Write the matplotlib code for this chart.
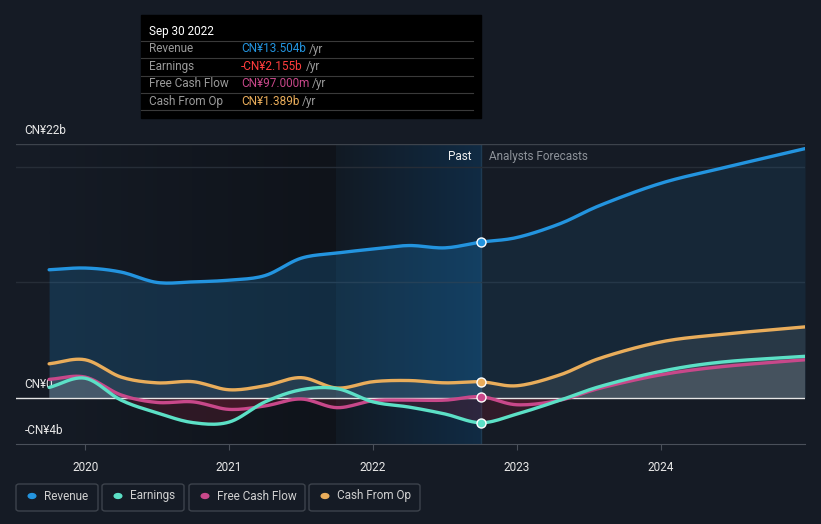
import numpy as np
import matplotlib.pyplot as plt
from matplotlib.colors import LinearSegmentedColormap
from matplotlib.patches import FancyBboxPatch, Rectangle

plt.rcParams['font.family'] = ['Roboto', 'DejaVu Sans']

# quarterly dates (decimal years), CN¥ billions
dates = [2019.75, 2020.0, 2020.25, 2020.5, 2020.75, 2021.0, 2021.25, 2021.5,
         2021.75, 2022.0, 2022.25, 2022.5, 2022.75,
         2023.0, 2023.3, 2023.58, 2024.0, 2024.42, 2025.0]
revenue = [11.1, 11.25, 10.9, 10.0, 10.05, 10.2, 10.6, 12.1,
           12.55, 12.9, 13.2, 13.0, 13.5,
           13.9, 15.1, 16.7, 18.6, 19.9, 21.6]
earnings = [0.9, 1.7, -0.2, -1.3, -2.15, -2.1, -0.35, 0.7,
            0.8, -0.35, -0.8, -1.4, -2.155,
            -1.4, -0.2, 1.0, 2.3, 3.1, 3.6]
fcf = [1.6, 1.8, 0.25, -0.4, -0.35, -1.0, -0.7, -0.1,
       -0.85, -0.25, -0.2, -0.2, 0.097,
       -0.6, -0.2, 0.85, 2.0, 2.7, 3.3]
cfo = [2.95, 3.3, 1.8, 1.3, 1.4, 0.7, 1.05, 1.75,
       0.85, 1.4, 1.5, 1.3, 1.389,
       1.05, 2.0, 3.45, 4.85, 5.5, 6.15]
years = [2020, 2021, 2022, 2023, 2024]
now = 2022.75

BG = '#151b25'
C_REV = '#2394df'
C_EARN = '#5ce0c6'
C_FCF = '#c8488a'
C_CFO = '#e9ad5b'


def smooth(x, y, n=12):
    # catmull-rom curve through the points, only for drawing
    x = np.asarray(x, float)
    y = np.asarray(y, float)
    px = np.concatenate([[2 * x[0] - x[1]], x, [2 * x[-1] - x[-2]]])
    py = np.concatenate([[2 * y[0] - y[1]], y, [2 * y[-1] - y[-2]]])
    xs, ys = [], []
    t = np.linspace(0, 1, n, endpoint=False)
    for i in range(1, len(px) - 2):
        for p, out in ((px, xs), (py, ys)):
            p0, p1, p2, p3 = p[i - 1], p[i], p[i + 1], p[i + 2]
            out.extend(0.5 * (2 * p1 + (-p0 + p2) * t + (2 * p0 - 5 * p1 + 4 * p2 - p3) * t ** 2
                              + (-p0 + 3 * p1 - 3 * p2 + p3) * t ** 3))
    xs.append(x[-1])
    ys.append(y[-1])
    return np.array(xs), np.array(ys)


fig = plt.figure(figsize=(8.21, 5.24), dpi=100, facecolor=BG)
ax = fig.add_axes([16 / 821, 1 - 444 / 524, 789 / 821, 300 / 524])
ax.set_facecolor(BG)
x0, x1 = 2019.52, 2025.0
ax.set_xlim(x0, x1)
ax.set_ylim(-4, 22)

# past background: fading dark area, then last-year highlight gradient
grad = np.linspace(0, 1, 256).reshape(1, -1)
ax.imshow(grad, extent=[dates[0], 2021.74, -4, 22], aspect='auto',
          cmap=LinearSegmentedColormap.from_list('d', [BG, '#0f131a']), zorder=0.4)
ax.imshow(grad, extent=[2021.74, now, -4, 22], aspect='auto',
          cmap=LinearSegmentedColormap.from_list('g', ['#121a24', '#102b44']), zorder=0.5)
ax.axvline(now, color='#1e3a52', lw=1, zorder=1)

for g in (10, 20):
    ax.axhline(g, color='#262d37', lw=1, zorder=1)
ax.axhline(22, color='#3d434c', lw=1, zorder=1)

sx, sr = smooth(dates, revenue)
ax.fill_between(sx, 0, sr, where=sx <= now + 1e-9, color=C_REV, alpha=0.2, lw=0, zorder=2)
ax.fill_between(sx, 0, sr, where=sx >= now - 1e-9, color=C_REV, alpha=0.1, lw=0, zorder=2)

for vals in (cfo, fcf, earnings):
    s_x, s_y = smooth(dates, vals)
    ax.fill_between(s_x, 0, s_y, where=s_y >= 0, color='#9aa0a8', alpha=0.14, lw=0, zorder=2, interpolate=True)
    ax.fill_between(s_x, 0, s_y, where=s_y < 0, color='#7a1e35', alpha=0.28, lw=0, zorder=2, interpolate=True)

ax.axhline(0, color='#e6e6e6', lw=1, zorder=3)

for vals, c in [(cfo, C_CFO), (fcf, C_FCF), (earnings, C_EARN), (revenue, C_REV)]:
    s_x, s_y = smooth(dates, vals)
    ax.plot(s_x, s_y, color=c, lw=2.4, zorder=4, solid_capstyle='round')
    i = dates.index(now)
    ax.plot(now, vals[i], 'o', ms=6.5, mfc=c, mec='white', mew=1, zorder=5)

for s in ax.spines.values():
    s.set_visible(False)
ax.spines['bottom'].set_visible(True)
ax.spines['bottom'].set_color('#4a505a')
ax.set_yticks([])
ax.set_xticks(years)
ax.set_xticklabels([str(y) for y in years])
ax.tick_params(axis='x', colors='#4a505a', length=4, pad=8, labelcolor='#e8e8e8', labelsize=8.5)

for yv, lab in [(22, 'CN¥22b'), (0, 'CN¥0'), (-4, '-CN¥4b')]:
    ax.annotate(lab, (x0, yv), xytext=(6, 5), textcoords='offset points',
                color='#e8e8e8', fontsize=8.5, va='bottom', ha='left')

ax.annotate('Past', (now, 22), xytext=(-7, -9), textcoords='offset points',
            color='#f0f0f0', fontsize=8.5, ha='right', va='center')
ax.annotate('Analysts Forecasts', (now, 22), xytext=(6, -9), textcoords='offset points',
            color='#8d9299', fontsize=8.5, ha='left', va='center')

# tooltip
W, H = 821, 524
fig.patches.append(Rectangle((141 / W, 1 - 118 / H), 340 / W, 103 / H, transform=fig.transFigure,
                             color='#000000', zorder=10))
fig.text(149 / W, 1 - 31 / H, 'Sep 30 2022', color='white', fontsize=8.5, va='center', zorder=11)
rows = [('Revenue', 'CN¥13.504b', C_REV), ('Earnings', '-CN¥2.155b', '#ff3d3d'),
        ('Free Cash Flow', 'CN¥97.000m', C_FCF), ('Cash From Op', 'CN¥1.389b', C_CFO)]
for k, (lab, val, c) in enumerate(rows):
    yy = 49 + k * 17.5
    fig.lines.append(plt.Line2D([141 / W, 473 / W], [1 - (yy - 8.5) / H] * 2, transform=fig.transFigure,
                                color='#3a3a3a', lw=0.8, zorder=11))
    fig.text(149 / W, 1 - yy / H, lab, color='#9a9a9a', fontsize=8.5, va='center', zorder=11)
    t = fig.text(241 / W, 1 - yy / H, val, color=c, fontsize=8.5, va='center', zorder=11)
    fig.canvas.draw()
    bb = t.get_window_extent()
    fig.text(bb.x1 / W + 3 / W, 1 - yy / H, '/yr', color='#9a9a9a', fontsize=8.5, va='center', zorder=11)
fig.lines.append(plt.Line2D([141 / W, 473 / W], [1 - 110 / H] * 2, transform=fig.transFigure,
                            color='#3a3a3a', lw=0.8, zorder=11))

# legend boxes
items = [('Revenue', C_REV, 16, 98), ('Earnings', C_EARN, 102, 184),
         ('Free Cash Flow', C_FCF, 189, 305), ('Cash From Op', C_CFO, 309, 420)]
for lab, c, xa, xb in items:
    fig.patches.append(FancyBboxPatch((xa / W, 1 - 511 / H), (xb - xa) / W, 27 / H,
                                      boxstyle='round,pad=0,rounding_size=0.004', transform=fig.transFigure,
                                      fc=BG, ec='#3d434c', lw=1))
    fig.patches.append(plt.Circle(((xa + 16) / W, 1 - 496 / H), 3.8 / W, transform=fig.transFigure,
                                  color=c))
    fig.text((xa + 28) / W, 1 - 496 / H, lab, color='#d0d0d0', fontsize=8.5, va='center')

fig.savefig('out.png', dpi=100, facecolor=BG)
